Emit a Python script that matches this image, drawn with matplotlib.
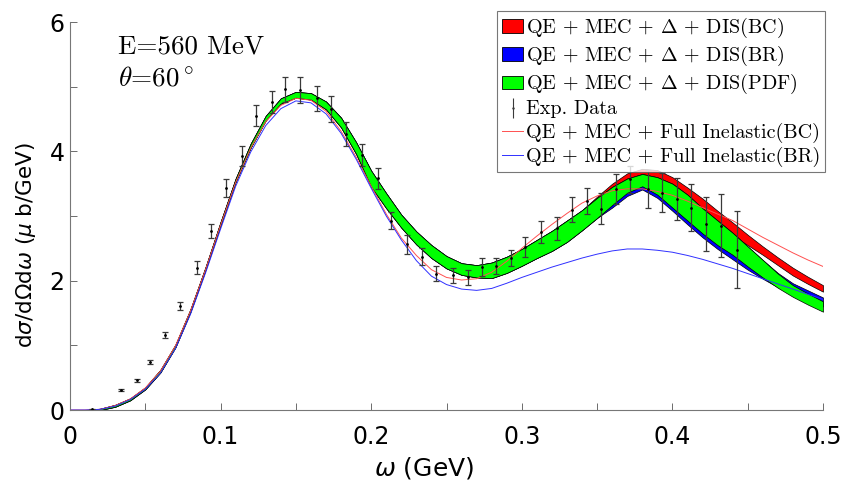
import matplotlib
matplotlib.use("Agg")
import matplotlib.pyplot as plt
import numpy as np
from matplotlib.patches import Patch
from matplotlib.font_manager import FontProperties

# energy transfer grid (GeV), step 0.01
omega = np.linspace(0.0, 0.5, 51)

# QE + MEC + Delta + DIS(PDF) band (green)
pdf_hi = [0.00, 0.00, 0.02, 0.08, 0.18, 0.35, 0.62, 1.01, 1.56, 2.21,
          2.91, 3.58, 4.12, 4.55, 4.82, 4.92, 4.90, 4.77, 4.52, 4.14,
          3.70, 3.35, 3.02, 2.76, 2.55, 2.38, 2.27, 2.24, 2.28, 2.37,
          2.49, 2.63, 2.77, 2.93, 3.09, 3.28, 3.45, 3.58, 3.65, 3.60,
          3.50, 3.33, 3.12, 2.93, 2.74, 2.53, 2.32, 2.11, 1.93, 1.80,
          1.68]
pdf_lo = [0.00, 0.00, 0.00, 0.05, 0.15, 0.32, 0.58, 0.97, 1.52, 2.17,
          2.86, 3.53, 4.06, 4.48, 4.74, 4.83, 4.80, 4.65, 4.37, 3.96,
          3.45, 3.12, 2.82, 2.56, 2.35, 2.19, 2.09, 2.05, 2.04, 2.12,
          2.23, 2.35, 2.46, 2.60, 2.78, 2.97, 3.17, 3.36, 3.46, 3.33,
          3.13, 2.93, 2.73, 2.55, 2.40, 2.22, 2.05, 1.89, 1.75, 1.63,
          1.52]

# QE + MEC + Delta + DIS(BC) band (red), hidden under green on the left
bc_hi = pdf_hi[:35] + [3.30, 3.50, 3.66, 3.73, 3.71, 3.60, 3.44, 3.27, 3.08,
                       2.90, 2.71, 2.53, 2.36, 2.20, 2.06, 1.93]
bc_lo = pdf_lo[:44] + [2.70, 2.55, 2.40, 2.24, 2.08, 1.95, 1.83]

# QE + MEC + Delta + DIS(BR) band (blue)
br_hi = pdf_hi[:47] + [2.12, 1.96, 1.85, 1.74]
br_lo = pdf_lo[:36] + [3.13, 3.31, 3.41, 3.28, 3.08, 2.87, 2.67, 2.49, 2.33,
                       2.17, 2.03, 1.90, 1.78, 1.68, 1.60]

# QE + MEC + Full Inelastic curves
full_bc = [0.00, 0.00, 0.01, 0.07, 0.17, 0.34, 0.60, 0.99, 1.53, 2.17,
           2.86, 3.52, 4.05, 4.46, 4.71, 4.82, 4.79, 4.62, 4.31, 3.91,
           3.46, 3.03, 2.66, 2.39, 2.17, 2.05, 2.01, 2.03, 2.13, 2.30,
           2.50, 2.69, 2.87, 3.04, 3.20, 3.31, 3.39, 3.42, 3.42, 3.38,
           3.32, 3.23, 3.13, 3.03, 2.93, 2.80, 2.67, 2.55, 2.43, 2.32,
           2.22]
full_br = [0.00, 0.00, 0.01, 0.06, 0.16, 0.32, 0.57, 0.95, 1.48, 2.12,
           2.80, 3.46, 3.99, 4.40, 4.66, 4.78, 4.75, 4.58, 4.28, 3.88,
           3.43, 3.00, 2.63, 2.31, 2.07, 1.94, 1.87, 1.85, 1.88, 1.96,
           2.05, 2.13, 2.21, 2.28, 2.35, 2.41, 2.46, 2.49, 2.49, 2.47,
           2.44, 2.39, 2.33, 2.26, 2.19, 2.11, 2.03, 1.95, 1.87, 1.79,
           1.71]

# experimental data
exp_w = [0.0146, 0.034, 0.0445, 0.053, 0.063, 0.073, 0.084, 0.0934, 0.1034,
         0.114, 0.1235, 0.134, 0.143, 0.153, 0.164, 0.173, 0.183, 0.194,
         0.2045, 0.213, 0.224, 0.2337, 0.2428, 0.254, 0.264, 0.2736, 0.2826,
         0.2926, 0.3023, 0.3128, 0.3236, 0.3335, 0.3435, 0.3526, 0.3625,
         0.3718, 0.384, 0.3933, 0.4033, 0.4124, 0.4221, 0.432, 0.4431]
exp_y = [0.01, 0.31, 0.46, 0.74, 1.16, 1.61, 2.20, 2.77, 3.43,
         3.93, 4.55, 4.77, 4.96, 4.95, 4.82, 4.66, 4.27, 3.94,
         3.58, 2.93, 2.56, 2.37, 2.11, 2.08, 2.05, 2.21, 2.23,
         2.35, 2.52, 2.76, 2.81, 3.10, 3.23, 3.11, 3.42,
         3.57, 3.42, 3.36, 3.26, 3.13, 2.88, 2.85, 2.48]
exp_err = [0.01, 0.02, 0.02, 0.03, 0.05, 0.06, 0.10, 0.11, 0.14,
           0.15, 0.16, 0.17, 0.19, 0.20, 0.19, 0.20, 0.18, 0.17,
           0.17, 0.13, 0.15, 0.13, 0.12, 0.12, 0.12, 0.14, 0.12,
           0.13, 0.15, 0.17, 0.18, 0.19, 0.20, 0.24, 0.23,
           0.21, 0.29, 0.30, 0.32, 0.36, 0.42, 0.49, 0.59]

labels = [r"QE + MEC + $\Delta$ + DIS(BC)",
          r"QE + MEC + $\Delta$ + DIS(BR)",
          r"QE + MEC + $\Delta$ + DIS(PDF)",
          "Exp. Data",
          "QE + MEC + Full Inelastic(BC)",
          "QE + MEC + Full Inelastic(BR)"]

fig = plt.figure(figsize=(8.56, 4.9), dpi=100)
ax = fig.add_axes([70/856, 1 - 410/490, 753/856, 388/490])

ax.fill_between(omega, bc_lo, bc_hi, facecolor=(1, 0, 0), edgecolor="k", linewidth=0.5)
ax.fill_between(omega, br_lo, br_hi, facecolor=(0, 0, 1), edgecolor="k", linewidth=0.5)
ax.fill_between(omega, pdf_lo, pdf_hi, facecolor=(0, 1, 0), edgecolor="k", linewidth=0.5)
l_bc, = ax.plot(omega, full_bc, color="#ff5050", lw=0.7)
l_br, = ax.plot(omega, full_br, color="#3030ff", lw=0.7)
ax.errorbar(exp_w, exp_y, yerr=exp_err, fmt=".", color="#3a3a3a", ms=2,
            elinewidth=0.9, capsize=2.2, capthick=0.9, mfc="k", mec="k")

ax.set_xlim(0, 0.5)
ax.set_ylim(0, 6)
ax.set_xticks([0, 0.1, 0.2, 0.3, 0.4, 0.5])
ax.set_xticklabels(["0", "0.1", "0.2", "0.3", "0.4", "0.5"])
ax.set_xticks(np.arange(0.05, 0.5, 0.1), minor=True)
ax.set_yticks([0, 2, 4, 6])
ax.set_yticks([1, 3, 5], minor=True)
ax.tick_params(which="both", direction="in", length=5, width=0.6,
               color="#555555", labelsize=17)
ax.tick_params(axis="x", pad=11)
ax.tick_params(axis="y", pad=4)
for s in ["top", "right"]:
    ax.spines[s].set_visible(False)
for s in ["left", "bottom"]:
    ax.spines[s].set_color("#777777")
    ax.spines[s].set_linewidth(0.8)

ax.set_xlabel(r"$\omega$ (GeV)", fontsize=18)
ax.set_ylabel(r"d$\sigma$/d$\Omega$d$\omega$ ($\mu$ b/GeV)", fontsize=15.5)
ax.xaxis.set_label_coords((424 - 70) / 753, -0.116)
ax.yaxis.set_label_coords(-0.043, (410 - 245) / 388)

cm = dict(family="cmr10", math_fontfamily="cm", fontsize=19.5)
ax.text(0.032, 5.62, "E=560 MeV", va="center", **cm)
ax.text(0.032, 5.13, r"$\theta$=60$^\circ$", va="center", **cm)

err_h = ax.errorbar([], [], yerr=[], fmt=".", color="#3a3a3a", ms=1.5,
                    elinewidth=0.8, capsize=1.5)
handles = [Patch(facecolor=(1, 0, 0), edgecolor="k", linewidth=0.6),
           Patch(facecolor=(0, 0, 1), edgecolor="k", linewidth=0.6),
           Patch(facecolor=(0, 1, 0), edgecolor="k", linewidth=0.6),
           err_h, l_bc, l_br]
leg = fig.legend(handles, labels, loc="upper right",
                 bbox_to_anchor=(825/856, 1 - 11/490),
                 prop=FontProperties(family="cmr10", math_fontfamily="cm", size=14.5),
                 frameon=True, fancybox=False, edgecolor="#555555",
                 handlelength=1.03, handleheight=0.65, handletextpad=0.12,
                 labelspacing=0.2, borderpad=0.25, borderaxespad=0)
leg.get_frame().set_linewidth(0.8)

fig.savefig("out.png", dpi=100)
